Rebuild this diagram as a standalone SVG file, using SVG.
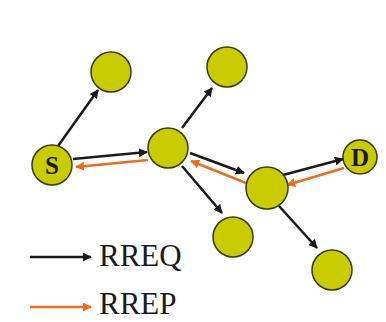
<svg xmlns="http://www.w3.org/2000/svg" width="386" height="322" viewBox="0 0 386 322">
  <defs>
    <marker id="ah-req" viewBox="0 0 10 10" refX="9" refY="5" markerWidth="3.6" markerHeight="3.6" orient="auto" markerUnits="strokeWidth">
      <path d="M0,0 L10,5 L0,10 z" fill="#1a1a1a"/>
    </marker>
    <marker id="ah-rep" viewBox="0 0 10 10" refX="9" refY="5" markerWidth="3.6" markerHeight="3.6" orient="auto" markerUnits="strokeWidth">
      <path d="M0,0 L10,5 L0,10 z" fill="#f26a1b"/>
    </marker>
    <style>
      .node { fill: #c9cc00; stroke: #3a3a10; stroke-width: 1.5; }
      .req { stroke: #1a1a1a; stroke-width: 2.5; fill: none; marker-end: url(#ah-req); }
      .rep { stroke: #f26a1b; stroke-width: 2.5; fill: none; marker-end: url(#ah-rep); }
      .lbl { font-family: "Liberation Serif", "Times New Roman", serif; font-weight: bold; font-size: 25px; fill: #1a1a1a; text-anchor: middle; }
      .legend { font-family: "Liberation Serif", "Times New Roman", serif; font-size: 31px; fill: #1a1a1a; }
    </style>
  </defs>
  <rect width="386" height="322" fill="#ffffff"/>

  <!-- connectors: request flood (black) and reply path (orange) -->
  <g id="connectors">
    <line class="req" x1="58" y1="146" x2="98" y2="90"/>
    <line class="req" x1="73" y1="159" x2="147" y2="152"/>
    <line class="rep" x1="148" y1="160" x2="76" y2="167"/>
    <line class="req" x1="182" y1="128" x2="212" y2="88"/>
    <line class="req" x1="190" y1="153" x2="244" y2="173"/>
    <line class="rep" x1="246" y1="183" x2="191" y2="161"/>
    <line class="req" x1="182" y1="166" x2="222" y2="213"/>
    <line class="req" x1="283" y1="175" x2="343" y2="159"/>
    <line class="rep" x1="344" y1="168" x2="287" y2="185"/>
    <line class="req" x1="279" y1="206" x2="317" y2="248"/>
  </g>

  <g id="node-s">
    <circle class="node" cx="52" cy="165" r="20"/>
    <text class="lbl" x="52" y="174">S</text>
  </g>
  <g id="node-a"><circle class="node" cx="111" cy="72" r="20"/></g>
  <g id="node-b"><circle class="node" cx="168" cy="148" r="20"/></g>
  <g id="node-c"><circle class="node" cx="227" cy="67" r="20"/></g>
  <g id="node-e"><circle class="node" cx="267" cy="188" r="21"/></g>
  <g id="node-f"><circle class="node" cx="233" cy="237" r="20"/></g>
  <g id="node-g"><circle class="node" cx="332" cy="270" r="20"/></g>
  <g id="node-d">
    <circle class="node" cx="360" cy="157" r="17"/>
    <text class="lbl" x="360" y="166">D</text>
  </g>

  <!-- legend -->
  <g id="legend">
    <line class="req" x1="30" y1="257" x2="91" y2="257"/>
    <text class="legend" x="99" y="266">RREQ</text>
    <line class="rep" x1="30" y1="307" x2="91" y2="307"/>
    <text class="legend" x="99" y="314">RREP</text>
  </g>
</svg>
